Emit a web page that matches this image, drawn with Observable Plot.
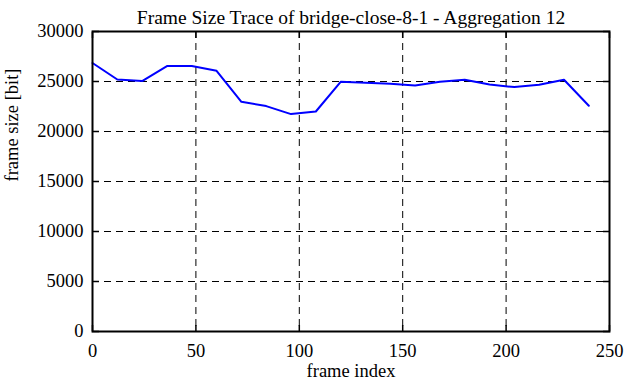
<!DOCTYPE html>
<html>
<head>
<meta charset="utf-8">
<script src="https://cdn.jsdelivr.net/npm/d3@7"></script>
<script src="https://cdn.jsdelivr.net/npm/@observablehq/plot@0.6"></script>
<style>
  html, body { margin: 0; padding: 0; background: #fff; }
  svg text { font-family: 'Liberation Serif', 'Times New Roman', serif !important; font-variant-numeric: normal !important; }
</style>
</head>
<body>
<div id="chart"></div>
<script>
const frameIndex = [0, 12, 24, 36, 48, 60, 72, 84, 96, 108, 120, 132, 144, 156, 168, 180, 192, 204, 216, 228, 240];
const frameSize = [26850, 25200, 25040, 26540, 26540, 26070, 22970, 22540, 21740, 22000, 24970, 24870, 24770, 24600, 24970, 25170, 24700, 24440, 24670, 25170, 22570];
const xTicks = [0, 50, 100, 150, 200, 250];
const yTicks = [0, 5000, 10000, 15000, 20000, 25000, 30000];
const titleText = "Frame Size Trace of bridge-close-8-1 - Aggregation 12";
const xLabel = "frame index";
const yLabel = "frame size [bit]";

const data = frameIndex.map((x, i) => ({x, y: frameSize[i]}));
const font = "'Liberation Serif', 'Times New Roman', serif";

const chart = Plot.plot({
  width: 626,
  height: 382,
  marginLeft: 92,
  marginRight: 17,
  marginTop: 31,
  marginBottom: 51,
  style: {fontFamily: font, fontSize: "18px", background: "#fff", color: "#000"},
  x: {domain: [0, 250]},
  y: {domain: [0, 30000]},
  marks: [
    Plot.ruleX(xTicks.slice(1, -1), {stroke: "#000", strokeWidth: 1, strokeDasharray: "7,5"}),
    Plot.ruleY(yTicks.slice(1, -1), {stroke: "#000", strokeWidth: 1, strokeDasharray: "7,5"}),
    Plot.axisX({anchor: "bottom", ticks: xTicks, tickSize: 0, tickPadding: 12, label: null, fontSize: 18.5, fontFamily: font, tickFormat: d => String(d)}),
    Plot.axisY({anchor: "left", ticks: yTicks, tickSize: 0, tickPadding: 9, label: null, fontSize: 18.5, fontFamily: font, tickFormat: d => String(d)}),
    Plot.axisX({anchor: "bottom", ticks: xTicks, tickSize: -6, text: null, label: null, strokeWidth: 1.5}),
    Plot.axisX({anchor: "top", ticks: xTicks, tickSize: -6, text: null, label: null, strokeWidth: 1.5}),
    Plot.axisY({anchor: "left", ticks: yTicks, tickSize: -7, text: null, label: null, strokeWidth: 1.5}),
    Plot.axisY({anchor: "right", ticks: yTicks, tickSize: -7, text: null, label: null, strokeWidth: 1.5}),
    Plot.line(data, {x: "x", y: "y", stroke: "#0000ff", strokeWidth: 2}),
    Plot.frame({stroke: "#000", strokeWidth: 2}),
    Plot.text([titleText], {frameAnchor: "top", dy: -21, fontSize: 19.5, fontFamily: font, fill: "#000"}),
    Plot.text([xLabel], {frameAnchor: "bottom", dy: 45, fontSize: 18.5, fontFamily: font, fill: "#000"}),
    Plot.text([yLabel], {frameAnchor: "left", dx: -80, rotate: -90, fontSize: 18.5, fontFamily: font, fill: "#000"})
  ]
});
document.getElementById("chart").appendChild(chart);
</script>
</body>
</html>
